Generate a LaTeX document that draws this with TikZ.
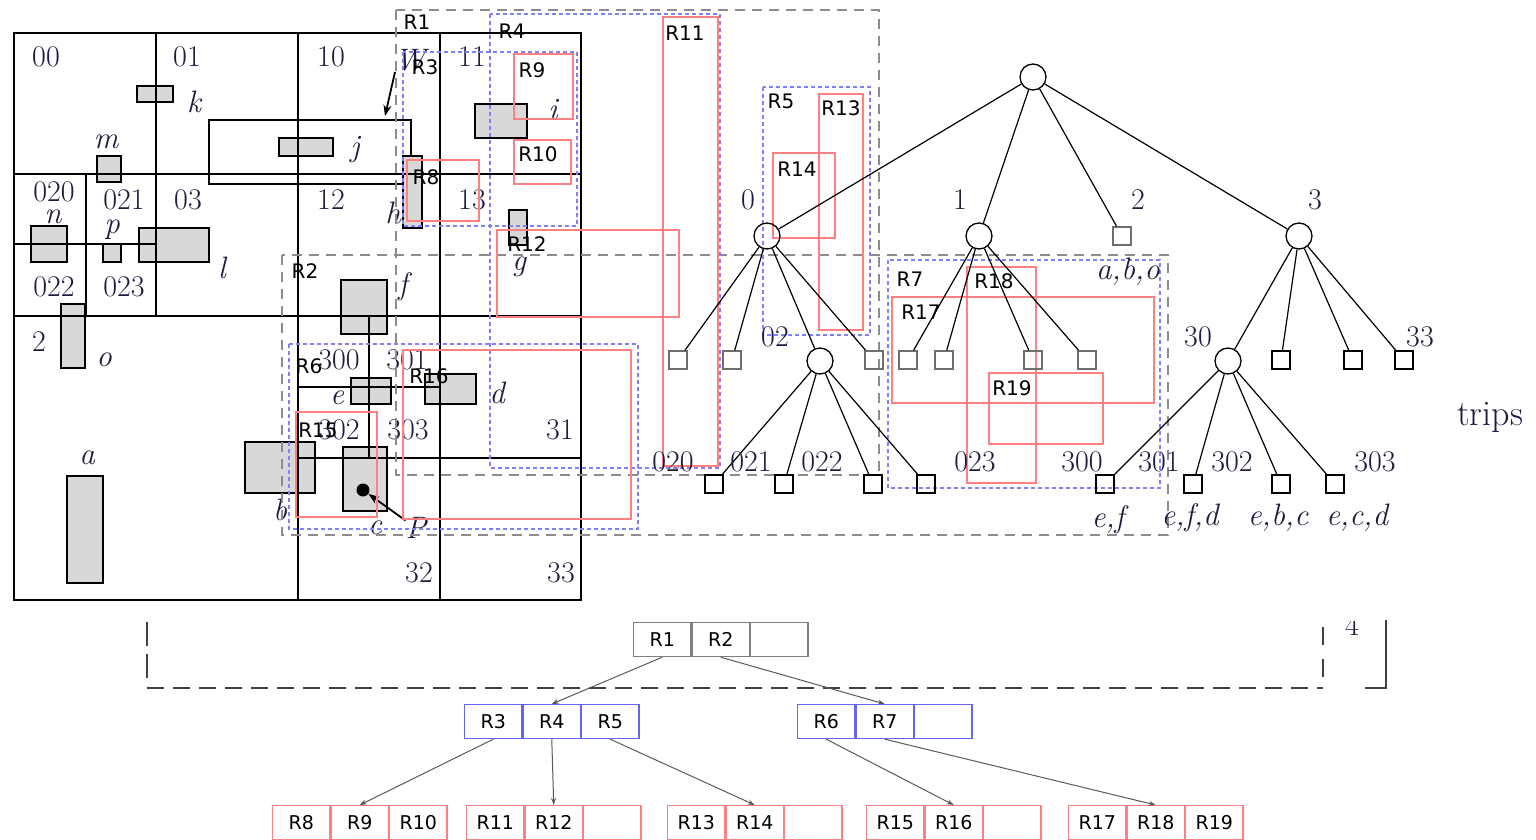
\documentclass[tikz,border=0pt]{standalone}
\usepackage{fontspec}
\newfontfamily\rfont{DejaVu Sans}
\usetikzlibrary{arrows.meta}
\definecolor{ink}{RGB}{28,28,64}
\definecolor{objgray}{RGB}{216,216,216}
\definecolor{rred}{RGB}{255,128,128}
\definecolor{rblue}{RGB}{128,128,255}
\definecolor{cblue}{RGB}{100,100,250}
\definecolor{rgrayd}{RGB}{140,140,140}
\definecolor{leafgray}{RGB}{110,110,110}
\definecolor{bdash}{RGB}{64,64,64}
\begin{document}
\begin{tikzpicture}[x=1pt,y=-1pt,
  grid/.style={line width=2.8pt, line cap=rect},
  obj/.style={draw=black, fill=objgray, line width=1.5pt},
  win/.style={draw=black, line width=1.5pt},
  rr/.style={draw=rred, line width=1.6pt},
  bb/.style={draw=rblue, line width=1.6pt, dash pattern=on 4pt off 3pt},
  gd/.style={draw=rgrayd, line width=1.6pt, dash pattern=on 10pt off 7pt},
  rl/.style={font=\rfont\fontsize{20}{22}\selectfont, inner sep=0pt},
  num/.style={font=\fontsize{30}{32}\selectfont, text=ink, inner sep=0pt},
  obl/.style={font=\fontsize{31}{33}\selectfont\itshape, text=ink, inner sep=0pt},
  qc/.style={circle, draw, minimum size=26pt, inner sep=0pt, line width=1.3pt},
  qs/.style={rectangle, draw, minimum size=18pt, inner sep=0pt, line width=1.5pt},
  qsg/.style={qs, draw=leafgray},
  tedge/.style={line width=1.2pt},
  cellk/.style={draw=gray, line width=1.2pt, minimum width=57.3pt, minimum height=34pt, inner sep=0pt, font=\rfont\fontsize{19}{21}\selectfont},
  cellb/.style={cellk, draw=cblue},
  cellr/.style={cellk, draw=rred},
  tarr/.style={-{Stealth[length=7pt,width=5pt]}, draw=black!65, line width=1pt},
  bigarr/.style={-{Stealth[length=11pt,width=8pt]}, line width=1.8pt},
]
\useasboundingbox (0,0) rectangle (1536,839);

% ---------- objects ----------
\draw[win] (209,120) rectangle (411,184);
\draw[obj] (137,86) rectangle (173,102);   % k
\draw[obj] (97,156) rectangle (121,182);   % m
\draw[obj] (279,138) rectangle (333,156);  % j
\draw[obj] (31,226) rectangle (67,262);    % n
\draw[obj] (103,244) rectangle (121,262);  % p
\draw[obj] (139,228) rectangle (209,262);  % l
\draw[obj] (61,304) rectangle (85,368);    % o
\draw[obj] (67,476) rectangle (103,583);   % a
\draw[obj] (403,156) rectangle (422,228);  % h
\draw[obj] (475,104) rectangle (527,138);  % i
\draw[obj] (509,210) rectangle (527,245);  % g
\draw[obj] (341,280) rectangle (387,334);  % f
\draw[obj] (351,378) rectangle (391,404);  % e
\draw[obj] (425,374) rectangle (476,404);  % d
\draw[obj] (245,442) rectangle (315,493);  % b
\draw[obj] (343,447) rectangle (387,511);  % c

% ---------- grid ----------
\draw[grid] (14,33) rectangle (581,600);
\draw[grid] (156,33) -- (156,316);
\draw[grid] (298,33) -- (298,600);
\draw[grid] (440,33) -- (440,600);
\draw[grid] (14,174) -- (581,174);
\draw[grid] (14,316) -- (581,316);
\draw[grid] (298,458) -- (581,458);
\draw[grid] (86,174) -- (86,316);
\draw[grid] (14,244) -- (156,244);
\draw[grid] (369,316) -- (369,458);
\draw[grid] (298,387) -- (440,387);

% ---------- grid labels ----------
\foreach \t/\x/\y [count=\i] in {00/46/57, 01/187/57, 10/331/57, 11/472/57,
  020/54/192, 021/124/200, 03/188/200, 12/331/200, 13/472/200,
  022/54/287, 023/124/287, 2/39/342, 300/339/360, 301/407/360,
  302/339/430, 303/408/430, 31/560/430, 32/419/573, 33/561/573}
  \node[num] (g\i) at (\x,\y) {\t};

\foreach \t/\x/\y in {k/194/102, m/106/142, j/355/150, n/53/217, p/112/230,
  l/222/268, o/104/360, a/87/458, h/393/213, i/553/110, g/519/267, f/403/287,
  e/337/398, d/497/393, b/280/510, c/375/528}
  \node[obl] (o\t) at (\x,\y) {\t};

\node[obl] (Wl) at (410,60) {W};
\coordinate (wtip) at (385,116);
\draw[bigarr] (395,72) -- (wtip);
\node[circle, fill=black, minimum size=13pt, inner sep=0pt] (pt) at (363,490) {};
\node[obl] (Pl) at (416,528) {P};
\draw[bigarr] (Pl) -- (pt);

% ---------- R-tree rectangles ----------
\draw[gd] (396,10) rectangle (879,475);
\draw[gd] (282,255) rectangle (1168,535);
\draw[bb] (403,52) rectangle (577,226);
\draw[bb] (490,14) rectangle (720,468);
\draw[bb] (763,87) rectangle (870,335);
\draw[bb] (289,344) rectangle (638,529);
\draw[bb] (888,260) rectangle (1160,488);
\draw[rr] (407,160) rectangle (479,221);
\draw[rr] (514,54) rectangle (573,119);
\draw[rr] (514,140) rectangle (571,184);
\draw[rr, line width=2.2pt] (663,17) rectangle (718,466);
\draw[rr] (497,230) rectangle (679,317);
\draw[rr] (819,94) rectangle (863,330);
\draw[rr] (773,153) rectangle (835,238);
\draw[rr] (296,412) rectangle (377,517);
\draw[rr] (403,350) rectangle (631,519);
\draw[rr] (892,297) rectangle (1154,403);
\draw[rr] (967,267) rectangle (1036,483);
\draw[rr] (989,373) rectangle (1103,444);

\foreach \t/\x/\y in {R1/417/22, R2/305/271, R3/425/67, R4/512/31, R5/781/101,
  R6/309/366, R7/910/279, R8/426/177, R9/532/70, R10/538/154, R11/685/33,
  R12/527/244, R13/841/108, R14/797/169, R15/318/430, R16/429/376,
  R17/921/312, R18/994/281, R19/1012/388}
  \node[rl] (l\t) at (\x,\y) {\t};

% ---------- quadtree ----------
\node[qc] (rt) at (1033,77) {};
\node[qc] (q0) at (767,236) {};
\node[qc] (q1) at (979,236) {};
\node[qsg] (q2) at (1122,236) {};
\node[qc] (q3) at (1299,236) {};
\node[qsg] (q00) at (678,360) {};
\node[qsg] (q01) at (732,360) {};
\node[qc] (q02) at (820,361) {};
\node[qsg] (q03) at (874,360) {};
\node[qs] (q020) at (714,484) {};
\node[qs] (q021) at (784,484) {};
\node[qs] (q022) at (873,484) {};
\node[qs] (q023) at (926,484) {};
\node[qsg] (q10) at (908,360) {};
\node[qsg] (q11) at (944,360) {};
\node[qsg] (q12) at (1033,360) {};
\node[qsg] (q13) at (1087,360) {};
\node[qc] (q30) at (1228,361) {};
\node[qs] (q31) at (1281,360) {};
\node[qs] (q32) at (1353,360) {};
\node[qs] (q33) at (1404,360) {};
\node[qs] (q300) at (1105,484) {};
\node[qs] (q301) at (1193,484) {};
\node[qs] (q302) at (1281,484) {};
\node[qs] (q303) at (1335,484) {};

\foreach \c in {q0,q1,q2,q3} \draw[tedge] (rt) -- (\c);
\foreach \c in {q00,q01,q02,q03} \draw[tedge] (q0) -- (\c);
\foreach \c in {q020,q021,q022,q023} \draw[tedge] (q02) -- (\c);
\foreach \c in {q10,q11,q12,q13} \draw[tedge] (q1) -- (\c);
\foreach \c in {q30,q31,q32,q33} \draw[tedge] (q3) -- (\c);
\foreach \c in {q300,q301,q302,q303} \draw[tedge] (q30) -- (\c);

\foreach \t/\x/\y [count=\i] in {0/748/200, 1/960/200, 2/1138/200, 3/1315/200,
  02/775/337, 30/1198/337, 33/1420/337, 020/673/462, 021/751/462, 022/822/462,
  023/975/462, 300/1082/462, 301/1159/462, 302/1232/462, 303/1375/462}
  \node[num] (t\i) at (\x,\y) {\t};

\foreach \t/\x/\y [count=\i] in {{e,f}/1108/520, {e,f,d}/1190/518,
  {e,b,c}/1278/518, {e,c,d}/1357/518, {a,b,o}/1128/272}
  \node[obl] (s\i) at (\x,\y) {\t};

\node[font=\fontsize{36}{38}\selectfont, text=ink, inner sep=0pt] (trips) at (1490,417) {trips};

% ---------- bottom dashed frame ----------
\draw[line width=1.6pt, bdash, dash pattern=on 24pt off 8pt] (147,622) -- (147,686);
\draw[line width=2.6pt, bdash, dash pattern=on 17pt off 9pt] (147,688) -- (1323,688);
\draw[line width=1.6pt, bdash, dash pattern=on 18pt off 14pt] (1323,627) -- (1323,686);
\draw[line width=1.6pt, bdash] (1365,688) -- (1386,688) -- (1386,620);
\begin{scope}
  \clip (1330,621) rectangle (1380,660);
  \node[num] (four) at (1352,625) {4};
\end{scope}

% ---------- R-tree nodes ----------
\node[cellk, anchor=north west] (b1) at (633,622) {R1};
\node[cellk, anchor=west] (b2) at (b1.east) {R2};
\node[cellk, anchor=west] (b3) at (b2.east) {};

\node[cellb, anchor=north west] (m3) at (464,704) {R3};
\node[cellb, anchor=west] (m4) at (m3.east) {R4};
\node[cellb, anchor=west] (m5) at (m4.east) {R5};
\node[cellb, anchor=north west] (m6) at (797,704) {R6};
\node[cellb, anchor=west] (m7) at (m6.east) {R7};
\node[cellb, anchor=west] (mx) at (m7.east) {};

\node[cellr, anchor=north west] (r8) at (272,805) {R8};
\node[cellr, anchor=west] (r9) at (r8.east) {R9};
\node[cellr, anchor=west] (r10) at (r9.east) {R10};
\node[cellr, anchor=north west] (r11) at (466,805) {R11};
\node[cellr, anchor=west] (r12) at (r11.east) {R12};
\node[cellr, anchor=west] (rxa) at (r12.east) {};
\node[cellr, anchor=north west] (r13) at (667,805) {R13};
\node[cellr, anchor=west] (r14) at (r13.east) {R14};
\node[cellr, anchor=west] (rxb) at (r14.east) {};
\node[cellr, anchor=north west] (r15) at (866,805) {R15};
\node[cellr, anchor=west] (r16) at (r15.east) {R16};
\node[cellr, anchor=west] (rxc) at (r16.east) {};
\node[cellr, anchor=north west] (r17) at (1068,805) {R17};
\node[cellr, anchor=west] (r18) at (r17.east) {R18};
\node[cellr, anchor=west] (r19) at (r18.east) {R19};

\draw[tarr] (b1.south) -- (m4.north);
\draw[tarr] (b2.south) -- (m7.north);
\draw[tarr] (m3.south) -- (r9.north);
\draw[tarr] (m4.south) -- (r12.north);
\draw[tarr] (m5.south) -- (r14.north);
\draw[tarr] (m6.south) -- (r16.north);
\draw[tarr] (m7.south) -- (r18.north);
\end{tikzpicture}
\end{document}
